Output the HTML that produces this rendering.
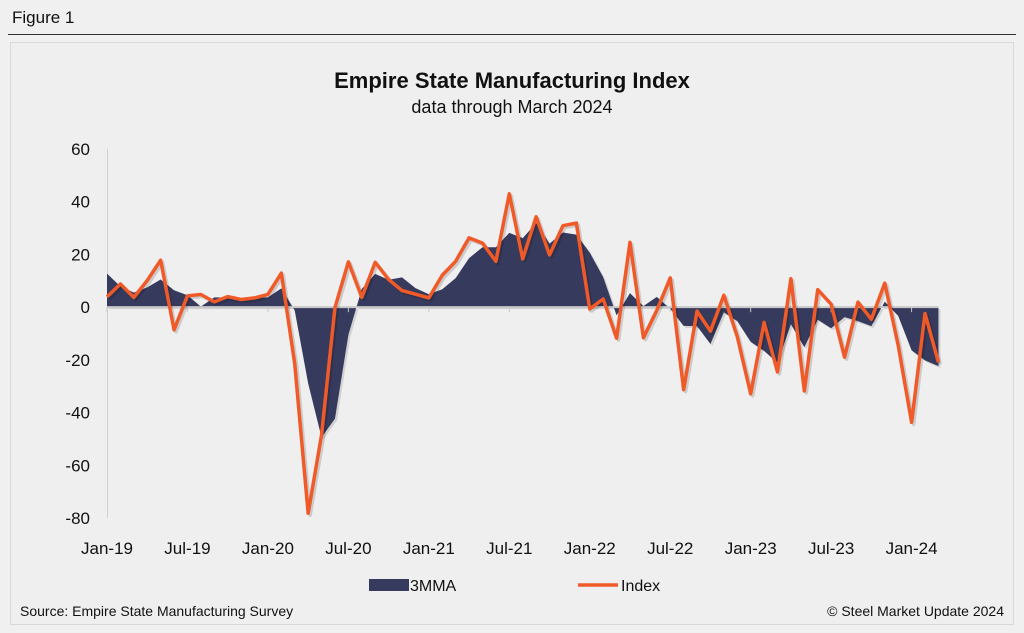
<!DOCTYPE html>
<html><head><meta charset="utf-8">
<style>
body{margin:0;width:1024px;height:633px;background:#fff;font-family:"Liberation Sans",Arial,sans-serif;overflow:hidden;position:relative}
#fig{position:absolute;left:0;top:0;width:1024px;height:633px;background:#f0f0f0}
</style></head><body>
<div id="fig">
<svg width="1024" height="633" style="position:absolute;left:0;top:0">
<text x="12" y="23" font-size="17" fill="#111">Figure 1</text>
<line x1="8" y1="34.5" x2="1016" y2="34.5" stroke="#333" stroke-width="1"/>
<rect x="10.5" y="42.5" width="1003" height="582" fill="#efefef" stroke="#d8d8d8"/>
<text x="512" y="88" font-size="22" font-weight="bold" text-anchor="middle" fill="#111">Empire State Manufacturing Index</text>
<text x="512" y="113" font-size="18" text-anchor="middle" fill="#111">data through March 2024</text>
<g id="axes"></g>
<g id="plot"></g>
<g>
<rect x="369" y="579" width="40" height="12" fill="#363a5c"/>
<text x="410" y="591" font-size="16" fill="#111">3MMA</text>
<line x1="578" y1="585" x2="618" y2="585" stroke="#f05a28" stroke-width="3.5"/>
<text x="621" y="591" font-size="16" fill="#111">Index</text>
</g>
<text x="20" y="616" font-size="14" fill="#111">Source: Empire State Manufacturing Survey</text>
<text x="1004" y="616" font-size="14" text-anchor="end" fill="#111">© Steel Market Update 2024</text>
</svg>
</div>
<script>
const months=["Jan-19","Jul-19","Jan-20","Jul-20","Jan-21","Jul-21","Jan-22","Jul-22","Jan-23","Jul-23","Jan-24"];
const yTicks=[60,40,20,0,-20,-40,-60,-80];
const indexVals=[3.9,8.8,3.7,10.1,17.8,-8.6,4.3,4.8,2.0,4.0,2.9,3.5,
4.8,12.9,-21.5,-78.2,-48.5,-0.2,17.2,3.7,17.0,10.5,6.3,4.9,
3.5,12.1,17.4,26.3,24.3,17.4,43.0,18.3,34.3,19.8,30.9,31.9,
-0.7,3.1,-11.8,24.6,-11.6,-1.2,11.1,-31.3,-1.5,-9.1,4.5,-11.2,
-32.9,-5.8,-24.6,10.8,-31.8,6.6,1.1,-19.0,1.9,-4.6,9.1,-14.5,
-43.7,-2.4,-20.9];
const mmaVals=[12.7,7.9,5.5,7.5,10.5,6.4,4.5,0.2,3.7,3.6,3.0,3.5,
3.7,7.1,-1.3,-28.9,-49.4,-42.3,-10.5,6.9,12.6,10.4,11.3,7.2,
4.9,6.8,11.0,18.6,22.7,22.7,28.2,26.2,31.9,24.1,28.3,27.5,
20.7,11.4,-3.1,5.3,0.4,3.9,-0.6,-7.1,-7.2,-14.0,-2.0,-5.3,
-13.2,-16.6,-21.1,-6.5,-15.2,-4.8,-8.0,-3.8,-5.3,-7.2,2.1,-3.3,
-16.4,-20.2,-22.4];
const NS="http://www.w3.org/2000/svg";
const x0=107,dx=13.41,yTop=149,yBot=518;
const X=i=>x0+i*dx;
const Y=v=>yTop+(60-v)*(yBot-yTop)/140;
function mk(tag,attrs,parent){const e=document.createElementNS(NS,tag);for(const k in attrs)e.setAttribute(k,attrs[k]);parent.appendChild(e);return e;}
const axes=document.getElementById('axes'),plot=document.getElementById('plot');
const yAxis=mk('line',{x1:107.5,y1:yTop,x2:107.5,y2:yBot,stroke:'#d0d0d0'},axes);


yTicks.forEach(v=>{const t=mk('text',{x:90,y:Y(v)+6,'font-size':17,'text-anchor':'end',fill:'#111'},axes);t.textContent=v;

});
// area
let d=`M${X(0)},${Y(0)}`;mmaVals.forEach((v,i)=>d+=` L${X(i)},${Y(v)}`);d+=` L${X(mmaVals.length-1)},${Y(0)} Z`;
const shadow=mk('path',{d:d,fill:'#000',opacity:0.12,transform:'translate(2,2)'},plot);


const area=mk('path',{d:d,fill:'#363a5c'},plot);


const zero=mk('line',{x1:107,y1:Y(0),x2:X(indexVals.length-1),y2:Y(0),stroke:'#c8c8c8','stroke-width':2},plot);


months.forEach((m,k)=>{const xi=X(k*6);
const tk=mk('line',{x1:xi,y1:Y(0),x2:xi,y2:Y(0)+5,stroke:'#c8c8c8'},plot);


const t=mk('text',{x:xi,y:554,'font-size':17,'text-anchor':'middle',fill:'#111'},axes);t.textContent=m;

});
const pts=indexVals.map((v,i)=>X(i)+','+Y(v)).join(' ');
const ls=mk('polyline',{points:pts,fill:'none',stroke:'#000',opacity:0.15,'stroke-width':3.5,transform:'translate(2,2)','stroke-linejoin':'round'},plot);


const line=mk('polyline',{points:pts,fill:'none',stroke:'#f05a28','stroke-width':3.5,'stroke-linejoin':'round'},plot);


</script>
</body></html>
